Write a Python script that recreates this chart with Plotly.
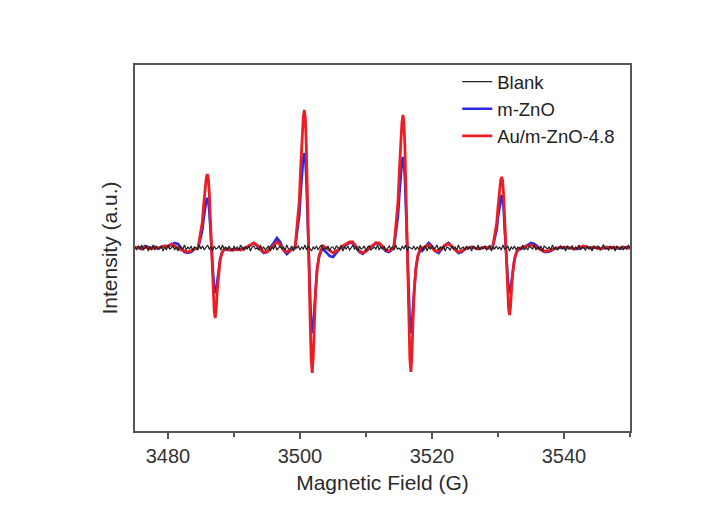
import plotly.graph_objects as go

# ---------------- data ----------------
# Magnetic field sample points for the two sample spectra (G)
field = [
    # baseline 3475 - 3484
    3475.0, 3475.5, 3476.0, 3476.5, 3477.0, 3477.5, 3478.0, 3478.5, 3479.0, 3479.5,
    3480.0, 3480.5, 3481.0, 3481.5, 3482.0, 3482.5, 3483.0, 3483.5, 3484.0,
    # line 1
    3484.55, 3484.75, 3485.0, 3485.2, 3485.4, 3485.6, 3485.8, 3485.95, 3486.1, 3486.25, 3486.4,
    3486.55, 3486.7, 3486.85, 3487.0, 3487.15, 3487.3, 3487.45, 3487.65, 3487.9, 3488.2, 3488.55,
    # baseline
    3489.0, 3489.5, 3490.0, 3490.5, 3491.0, 3491.5, 3492.0, 3492.5, 3493.0, 3493.5, 3494.0,
    3494.5, 3495.0, 3495.5, 3496.0, 3496.5, 3497.0, 3497.5, 3498.0, 3498.5, 3499.0,
    # line 2
    3499.25, 3499.45, 3499.7, 3499.9, 3500.1, 3500.3, 3500.5, 3500.65, 3500.8, 3500.95, 3501.1,
    3501.25, 3501.4, 3501.55, 3501.7, 3501.85, 3502.0, 3502.15, 3502.35, 3502.6, 3502.9, 3503.25,
    # baseline
    3503.5, 3504.0, 3504.5, 3505.0, 3505.5, 3506.0, 3506.5, 3507.0, 3507.5, 3508.0, 3508.5,
    3509.0, 3509.5, 3510.0, 3510.5, 3511.0, 3511.5, 3512.0, 3512.5, 3513.0, 3513.5,
    # line 3
    3514.2, 3514.4, 3514.65, 3514.85, 3515.05, 3515.25, 3515.45, 3515.6, 3515.75, 3515.9, 3516.05,
    3516.2, 3516.35, 3516.5, 3516.65, 3516.8, 3516.95, 3517.1, 3517.3, 3517.55, 3517.85, 3518.2,
    # baseline
    3518.5, 3519.0, 3519.5, 3520.0, 3520.5, 3521.0, 3521.5, 3522.0, 3522.5, 3523.0, 3523.5,
    3524.0, 3524.5, 3525.0, 3525.5, 3526.0, 3526.5, 3527.0, 3527.5, 3528.0, 3528.5,
    # line 4
    3529.15, 3529.35, 3529.6, 3529.8, 3530.0, 3530.2, 3530.4, 3530.55, 3530.7, 3530.85, 3531.0,
    3531.15, 3531.3, 3531.45, 3531.6, 3531.75, 3531.9, 3532.05, 3532.25, 3532.5, 3532.8, 3533.15,
    # baseline 3533.5 - 3550
    3533.5, 3534.0, 3534.5, 3535.0, 3535.5, 3536.0, 3536.5, 3537.0, 3537.5, 3538.0, 3538.5,
    3539.0, 3539.5, 3540.0, 3540.5, 3541.0, 3541.5, 3542.0, 3542.5, 3543.0, 3543.5, 3544.0,
    3544.5, 3545.0, 3545.5, 3546.0, 3546.5, 3547.0, 3547.5, 3548.0, 3548.5, 3549.0, 3549.5, 3550.0,
]

# Au/m-ZnO-4.8 intensity (a.u.)
au_mzno = [
    0, 1, -1, 1, 0, -1, 1, 0, 1, 2, 1, 4, 2, 0, -2, -3, -4, -3, -1,
    0, 7, 16, 26, 43, 58, 70, 74, 70, 56, 28, 0, -21, -42, -63, -70, -62, -43, -25, -12, -4, -1,
    -1, -2, -2, -1, -2, -1, 1, 3, 5, 3, -1, -4, -4, -1, 3, 6, 3, -2, -4, -2, 0,
    0, 14, 30, 48, 80, 108, 131, 138, 131, 103.5, 52, 0, -37.5, -75, -112.5, -125, -110, -77.5, -44, -21, -7.5, -1,
    2, 0, -3, -5, -3, 0, 2, 4, 6, 6, 2, -3, -5, -3, 0, 3, 5, 5, 2, -2, -3,
    0, 13, 29, 46.5, 77, 104, 126, 133, 126, 100, 50.5, 0, -37, -74, -111.5, -124, -109, -77, -43.5, -21, -7.5, -1,
    0, 2, 3, 0, -3, -3, 0, 3, 4, 2, -2, -4, -3, -1, 0, 1, 0, -1, 0, 1, 0,
    0, 7, 15.5, 25, 41, 55.5, 67.5, 71, 67.5, 53, 27, 0, -20, -40, -60, -67, -59, -41.5, -23.5, -11.5, -4, -0.5,
    0, 1, 2, 3, 2, 0, -2, -3, -3, -2, -1, 0, 1, 0, 1, 0, -1, 0, 1, 2, 1, 0, 1, 0, -1, 0, 1, 0, 1, 0, 0, 1, 0, 0,
]

# m-ZnO intensity (a.u.)
m_zno = [
    1, 0, -1, 2, 1, 0, 1, -1, 1, 2, 2, 3, 5, 4, 0, -4, -5, -4, -1,
    0, 5, 11, 17.5, 29, 39, 47.5, 50, 47.5, 37.5, 19, 0, -13.5, -27, -40.5, -45, -41.4, -32.4, -20, -11, -4.5, -1.5,
    -2, -2, -1, -2, -1, 0, 1, 3, 5, 2, -2, -5, -4, 0, 5, 10, 6, -2, -6, -3, 0,
    0, 9.5, 21, 33, 55, 74, 90, 95, 90, 71, 36, 0, -25.5, -51, -76.5, -85, -78, -61, -38, -21, -8.5, -2.5,
    -1, -5, -8, -9, -5, -1, 1, 3, 5, 5, 1, -4, -6, -3, 0, 3, 5, 4, 1, -3, -4,
    0, 9, 20, 32, 53, 71, 86.5, 91, 86.5, 68, 34.5, 0, -25.5, -51, -76.5, -85, -78, -61, -38, -21, -8.5, -2.5,
    -3, 1, 5, 2, -3, -5, -1, 3, 5, 2, -2, -5, -4, -1, 0, 1, 0, -1, 0, 1, 0,
    0, 5, 11.5, 18.5, 31, 41, 50, 53, 50, 40, 20, 0, -13.5, -27, -40.5, -45, -41.5, -32.5, -20, -11, -4.5, -1.5,
    -1, 1, 3, 5, 4, 1, -2, -4, -4, -3, -1, 0, 0, 1, 0, 0, -1, -1, 0, 1, 1, 0, 0, 1, -1, 0, 0, 1, 0, 0, -1, 0, 1, 0,
]

# Blank: sweep starts at 3475 G with 0.25 G steps
blank_start = 3475.0
blank_step = 0.25
blank = [
    1, -2, 2, -1, 3, -2, 0, 2, -3, 1, -1, 3, -2, 2, -1, 0, 2, -3, 1, -2,
    3, -1, 0, 2, -2, 1, -3, 2, 0, -1, 3, -2, 1, -1, 2, -3, 1, 0, -2, 3,
    -1, 2, -2, 0, 3, -1, 1, -3, 2, -1, 0, 2, -2, 3, -1, 1, -2, 2, 0, -3,
    2, -1, 1, -2, 3, 0, -2, 1, -1, 2, -3, 1, 2, -1, 0, -2, 3, -1, 1, -2,
    0, 2, -3, 1, -1, 3, -2, 0, 2, -1, 1, -2, 3, -1, -1, 2, -3, 1, 0, 2,
    -2, 1, -1, 3, -2, 2, 0, -3, 1, -1, 2, -2, 1, 3, -2, 0, -1, 2, -3, 1,
    1, -2, 2, 0, -1, 3, -3, 1, -1, 2, -2, 0, 3, -1, 1, -3, 2, -1, 0, 2,
    -3, 1, 2, -2, 0, 1, -1, 3, -2, 1, -1, 2, -3, 0, 2, -1, 1, -2, 3, -1,
    0, -2, 2, -1, 3, -3, 1, 0, -1, 2, -2, 1, -1, 3, -2, 0, 2, -3, 1, -1,
    2, -1, 0, 3, -2, 1, -1, 2, -3, 1, 0, -2, 2, -1, 1, -2, 3, -1, 0, 1,
    -2, 2, -1, 1, -3, 2, 0, -1, 3, -2, 1, -1, 2, -2, 0, 3, -3, 1, -1, 2,
    -1, 1, -2, 3, -1, 0, 2, -3, 1, -1, 2, -2, 1, 0, -1, 3, -2, 1, -2, 2,
    0, -1, 3, -2, 1, -1, 2, -3, 2, 0, -1, 1, -2, 3, -1, 1, -2, 0, 2, -1,
    1, -3, 2, -1, 0, 2, -2, 1, -1, 3, -2, 1, 0, -2, 2, -1, 1, -3, 2, 0,
    -1, 2, -2, 1, 3, -1, 0, -2, 2, -1, 1, -3, 2, 0, -1, 2, -2, 1, -1, 3,
    0,
]

x_tick_vals = [3480, 3500, 3520, 3540]
x_tick_text = ["3480", "3500", "3520", "3540"]
x_range = [3475, 3550]
y_range = [-183, 183]

series_names = ["Blank", "m-ZnO", "Au/m-ZnO-4.8"]

# ---------------- figure ----------------
FONT = "Liberation Sans, Arial, Helvetica, sans-serif"
AXIS_COLOR = "#555555"

fig = go.Figure()

fig.add_trace(go.Scatter(
    x=field, y=m_zno, mode="lines", name=series_names[1], legendrank=2,
    line=dict(color="#2a2ae6", width=2.6),
))
fig.add_trace(go.Scatter(
    x=field, y=au_mzno, mode="lines", name=series_names[2], legendrank=3,
    line=dict(color="#ec1e24", width=2.8),
))
fig.add_trace(go.Scatter(
    x0=blank_start, dx=blank_step, y=blank, mode="lines", name=series_names[0], legendrank=1,
    line=dict(color="#222222", width=1.2),
))

fig.update_layout(
    width=716, height=510,
    margin=dict(l=135, r=86, t=65, b=79),
    paper_bgcolor="white", plot_bgcolor="white",
    font=dict(family=FONT, color="#2a2a2a"),
    showlegend=True,
    legend=dict(
        x=0.651, y=1.005, xanchor="left", yanchor="top",
        bgcolor="rgba(0,0,0,0)", borderwidth=0,
        font=dict(family=FONT, size=18.5, color="#222222"),
        tracegroupgap=0,
    ),
)

fig.update_xaxes(
    range=x_range,
    tickmode="array", tickvals=x_tick_vals, ticktext=x_tick_text,
    ticks="outside", ticklen=6, tickwidth=1.5, tickcolor=AXIS_COLOR,
    minor=dict(ticks="outside", dtick=10, tick0=3470, ticklen=4, tickwidth=1.5, tickcolor=AXIS_COLOR, showgrid=False),
    tickfont=dict(family=FONT, size=20, color="#333333"),
    showline=True, linecolor=AXIS_COLOR, linewidth=1.6, mirror=True,
    showgrid=False, zeroline=False,
    title=dict(text="Magnetic Field (G)", font=dict(family=FONT, size=21, color="#2a2a2a"), standoff=10),
)
fig.update_yaxes(
    range=y_range,
    showticklabels=False, ticks="",
    showline=True, linecolor=AXIS_COLOR, linewidth=1.6, mirror=True,
    showgrid=False, zeroline=False,
    title=dict(text="Intensity (a.u.)", font=dict(family=FONT, size=21, color="#2a2a2a"), standoff=10),
)

fig.write_html("out.html")
